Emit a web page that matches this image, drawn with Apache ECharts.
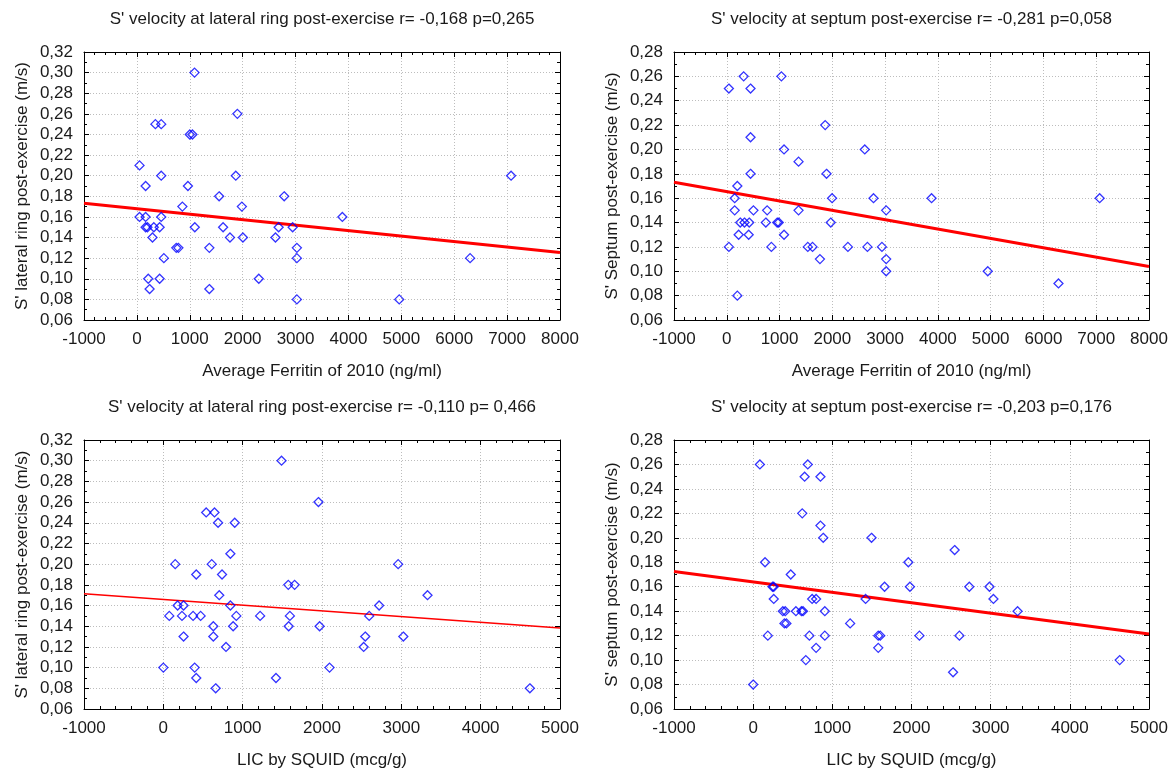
<!DOCTYPE html>
<html>
<head>
<meta charset="utf-8">
<title>S' velocity vs ferritin / LIC</title>
<script src="https://cdn.jsdelivr.net/npm/echarts@6/dist/echarts.min.js"></script>
<style>
  html, body { margin: 0; padding: 0; background: #fff; }
  #chart { width: 1172px; height: 773px; }
</style>
</head>
<body>
<div id="chart"></div>
<script>
const titles = [
  "S' velocity at lateral ring post-exercise r= -0,168 p=0,265",
  "S' velocity at septum post-exercise r= -0,281 p=0,058",
  "S' velocity at lateral ring post-exercise r= -0,110 p= 0,466",
  "S' velocity at septum post-exercise r= -0,203 p=0,176"
]
const xNames = ['Average Ferritin of 2010 (ng/ml)', 'Average Ferritin of 2010 (ng/ml)', 'LIC by SQUID (mcg/g)', 'LIC by SQUID (mcg/g)']
const yNames = ["S' lateral ring post-exercise (m/s)", "S' Septum post-exercise (m/s)", "S' lateral ring post-exercise (m/s)", "S' septum post-exercise (m/s)"]
const xRanges = [[-1000, 8000], [-1000, 8000], [-1000, 5000], [-1000, 5000]]
const yRanges = [[0.06, 0.32], [0.06, 0.28], [0.06, 0.32], [0.06, 0.28]]

const ferritinLateral = [
  [1090, 0.30], [1900, 0.26], [350, 0.25], [460, 0.25], [1000, 0.24], [1050, 0.24], [50, 0.21],
  [460, 0.20], [1870, 0.20], [7075, 0.20], [165, 0.19], [965, 0.19], [1555, 0.18], [2785, 0.18],
  [860, 0.17], [1985, 0.17], [50, 0.16], [165, 0.16], [460, 0.16], [3885, 0.16], [165, 0.15],
  [200, 0.15], [320, 0.15], [430, 0.15], [1095, 0.15], [1630, 0.15], [2680, 0.15], [2945, 0.15],
  [295, 0.14], [1760, 0.14], [2005, 0.14], [2620, 0.14], [745, 0.13], [785, 0.13], [1370, 0.13],
  [3025, 0.13], [510, 0.12], [3025, 0.12], [6300, 0.12], [215, 0.10], [430, 0.10], [2305, 0.10],
  [240, 0.09], [1370, 0.09], [3025, 0.08], [4960, 0.08]
]
const ferritinSeptum = [
  [40, 0.25], [320, 0.26], [450, 0.25], [1035, 0.26], [1865, 0.22], [450, 0.21], [1085, 0.20],
  [2615, 0.20], [1360, 0.19], [450, 0.18], [1890, 0.18], [200, 0.17], [150, 0.16], [1995, 0.16],
  [2780, 0.16], [3880, 0.16], [7065, 0.16], [150, 0.15], [505, 0.15], [765, 0.15], [1360, 0.15],
  [3020, 0.15], [255, 0.14], [335, 0.14], [425, 0.14], [740, 0.14], [955, 0.14], [985, 0.14],
  [1970, 0.14], [225, 0.13], [415, 0.13], [1085, 0.13], [40, 0.12], [845, 0.12], [1535, 0.12],
  [1625, 0.12], [2295, 0.12], [2665, 0.12], [2940, 0.12], [1765, 0.11], [3020, 0.11], [3020, 0.10],
  [4945, 0.10], [6285, 0.09], [200, 0.08]
]
const licLateral = [
  [1490, 0.30], [1955, 0.26], [540, 0.25], [645, 0.25], [690, 0.24], [900, 0.24], [845, 0.21],
  [150, 0.20], [610, 0.20], [2960, 0.20], [415, 0.19], [740, 0.19], [1575, 0.18], [1655, 0.18],
  [705, 0.17], [3330, 0.17], [180, 0.16], [255, 0.16], [845, 0.16], [2720, 0.16], [75, 0.15],
  [235, 0.15], [375, 0.15], [470, 0.15], [920, 0.15], [1220, 0.15], [1595, 0.15], [2595, 0.15],
  [630, 0.14], [880, 0.14], [1580, 0.14], [1970, 0.14], [255, 0.13], [630, 0.13], [2545, 0.13],
  [3025, 0.13], [790, 0.12], [2525, 0.12], [0, 0.10], [395, 0.10], [2095, 0.10], [415, 0.09],
  [1420, 0.09], [660, 0.08], [4620, 0.08]
]
const licSeptum = [
  [85, 0.26], [690, 0.26], [650, 0.25], [850, 0.25], [620, 0.22], [850, 0.21], [885, 0.20],
  [1495, 0.20], [2545, 0.19], [150, 0.18], [1960, 0.18], [475, 0.17], [245, 0.16], [260, 0.16],
  [1660, 0.16], [1980, 0.16], [2730, 0.16], [2985, 0.16], [260, 0.15], [745, 0.15], [795, 0.15],
  [1420, 0.15], [3035, 0.15], [375, 0.14], [405, 0.14], [540, 0.14], [610, 0.14], [630, 0.14],
  [905, 0.14], [3340, 0.14], [395, 0.13], [420, 0.13], [1225, 0.13], [185, 0.12], [710, 0.12],
  [905, 0.12], [1580, 0.12], [1605, 0.12], [2100, 0.12], [2605, 0.12], [795, 0.11], [1580, 0.11],
  [665, 0.10], [4630, 0.10], [2525, 0.09], [0, 0.08]
]

// regression lines, ends read at the x-axis limits
const fitFerritinLateral = [[-1000, 0.1732], [8000, 0.1254]]
const fitFerritinSeptum = [[-1000, 0.1730], [8000, 0.1040]]
const fitLicLateral = [[-1000, 0.1714], [5000, 0.1383]]
const fitLicSeptum = [[-1000, 0.1725], [5000, 0.1214]]

const scatterData = [ferritinLateral, ferritinSeptum, licLateral, licSeptum]
const fitData = [fitFerritinLateral, fitFerritinSeptum, fitLicLateral, fitLicSeptum]
const fitWidth = [3, 3, 1.3, 3]

const FONT = '"Liberation Sans", Arial, sans-serif'
const TEXT = '#1a1a1a'
const grids = [
  { left: 84, top: 52, width: 476, height: 268 },
  { left: 674, top: 52, width: 475, height: 268 },
  { left: 84, top: 440, width: 476, height: 269 },
  { left: 674, top: 440, width: 475, height: 269 }
]

const axisLine = { show: true, onZero: false, lineStyle: { color: '#000', width: 1 } }
const axisTick = { show: true, inside: true, length: 5, lineStyle: { color: '#000' } }

const xAxis = []
const yAxis = []
const series = []
const title = []

for (let i = 0; i < 4; i++) {
  const g = grids[i]
  const xr = xRanges[i]
  const yr = yRanges[i]
  title.push({
    text: titles[i],
    left: g.left + g.width / 2,
    top: g.top - 41,
    textAlign: 'center',
    padding: 0,
    textStyle: { fontFamily: FONT, fontSize: 17, fontWeight: 'normal', color: TEXT }
  })
  const xBase = {
    type: 'value', gridIndex: i, min: xr[0], max: xr[1], interval: 1000,
    axisLine: axisLine, axisTick: axisTick,
    minorTick: { show: true, splitNumber: 5, length: 3, lineStyle: { color: '#000' } }
  }
  xAxis.push(Object.assign({}, xBase, {
    position: 'bottom',
    name: xNames[i], nameLocation: 'middle', nameGap: 43,
    nameTextStyle: { fontFamily: FONT, fontSize: 17, color: TEXT },
    axisLabel: { fontFamily: FONT, fontSize: 17, color: TEXT, margin: 11, formatter: v => String(v) },
    splitLine: { show: true, lineStyle: { color: '#bdbdbd', type: [1, 2] } }
  }))
  xAxis.push(Object.assign({}, xBase, {
    position: 'top', axisLabel: { show: false }, splitLine: { show: false }
  }))
  const yBase = {
    type: 'value', gridIndex: i, min: yr[0], max: yr[1], interval: 0.02,
    axisLine: axisLine, axisTick: axisTick,
    minorTick: { show: true, splitNumber: 2, length: 3, lineStyle: { color: '#000' } }
  }
  yAxis.push(Object.assign({}, yBase, {
    position: 'left',
    name: yNames[i], nameLocation: 'middle', nameGap: 53,
    nameTextStyle: { fontFamily: FONT, fontSize: 17, color: TEXT },
    axisLabel: {
      fontFamily: FONT, fontSize: 17, color: TEXT, margin: 11,
      formatter: v => v.toFixed(2).replace('.', ',')
    },
    splitLine: { show: true, lineStyle: { color: '#bdbdbd', type: [1, 2] } }
  }))
  yAxis.push(Object.assign({}, yBase, {
    position: 'right', axisLabel: { show: false }, splitLine: { show: false }
  }))

  series.push({
    type: 'scatter',
    xAxisIndex: i * 2,
    yAxisIndex: i * 2,
    data: scatterData[i],
    symbol: 'diamond',
    symbolSize: [9, 9],
    itemStyle: { color: 'rgba(0,0,0,0)', borderColor: '#0000ff', borderWidth: 1.3 },
    z: 3
  })
  series.push({
    type: 'line',
    xAxisIndex: i * 2,
    yAxisIndex: i * 2,
    data: fitData[i],
    symbol: 'none',
    lineStyle: { color: '#ff0000', width: fitWidth[i] },
    z: 2
  })
}

const chart = echarts.init(document.getElementById('chart'))
chart.setOption({
  animation: false,
  backgroundColor: '#fff',
  title: title,
  grid: grids,
  xAxis: xAxis,
  yAxis: yAxis,
  series: series
})
</script>
</body>
</html>
